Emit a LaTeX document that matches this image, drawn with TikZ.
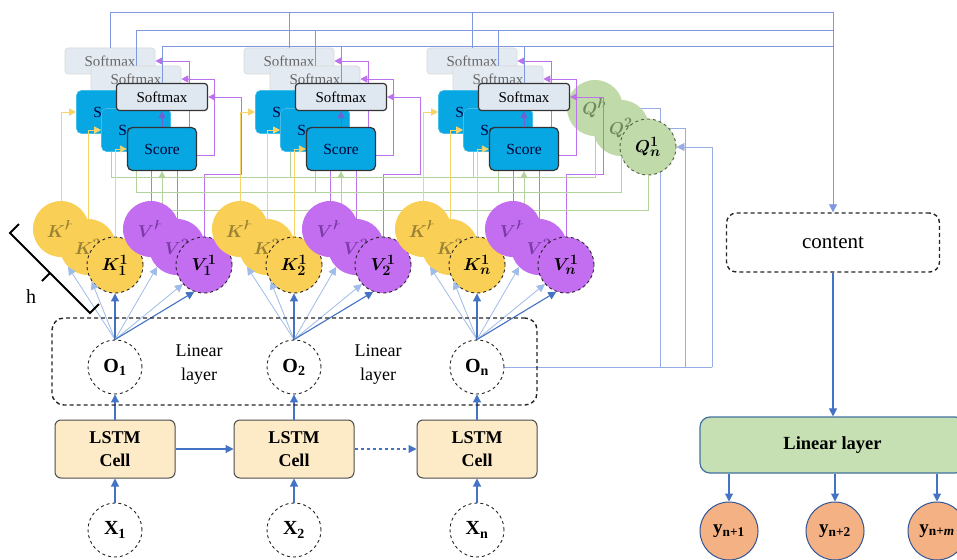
\documentclass[tikz,border=0pt]{standalone}
\usepackage{fontspec}
\setmainfont{Liberation Serif}
\usepackage{bm}
\usetikzlibrary{arrows.meta}

\definecolor{kyel}{HTML}{FACF55}
\definecolor{kdark}{HTML}{9B8234}
\definecolor{vpur}{HTML}{C36EF1}
\definecolor{vdark}{HTML}{7B3AA6}
\definecolor{qgrn}{HTML}{C0DAAA}
\definecolor{qdark}{HTML}{6F8A5C}
\definecolor{scoreblue}{HTML}{06A7E2}
\definecolor{softbg}{HTML}{DFE7F1}
\definecolor{softback}{HTML}{E3EAF2}
\definecolor{arrblue}{HTML}{4472C4}
\definecolor{lightarr}{HTML}{9FBDE8}
\definecolor{busblue}{HTML}{7E98DE}
\definecolor{lstmfill}{HTML}{FDEBC8}
\definecolor{linfill}{HTML}{C6E0B4}
\definecolor{linedge}{HTML}{41719C}
\definecolor{yfill}{HTML}{F4B183}
\definecolor{yedge}{HTML}{2F5597}
\definecolor{kline}{HTML}{F8D36A}
\definecolor{pline}{HTML}{BC72EE}
\definecolor{gline}{HTML}{B2D49C}
\definecolor{slate}{HTML}{7060D0}

\pgfdeclarelayer{paper}
\pgfdeclarelayer{wires}
\pgfdeclarelayer{qlayer}
\pgfdeclarelayer{links}
\pgfdeclarelayer{kvlayer}
\pgfdeclarelayer{top}
\pgfsetlayers{paper,wires,qlayer,links,kvlayer,main,top}

\begin{document}
\begin{tikzpicture}[x=1pt,y=-1pt,
  ah/.style={-{Triangle[length=8pt,width=8pt]}},
  ahs/.style={-{Triangle[length=7pt,width=7pt]}},
  ball/.style={circle,minimum size=56pt,inner sep=0pt,font=\fontsize{19}{21}\selectfont},
  kback/.style={ball,fill=kyel,text=kdark},
  kfront/.style={ball,fill=kyel,draw=black!85,dashed,line width=0.9pt},
  vback/.style={ball,fill=vpur,text=vdark},
  vfront/.style={ball,fill=vpur,draw=black!85,dashed,line width=0.9pt},
  qback/.style={ball,fill=qgrn,text=qdark},
  qfront/.style={ball,fill=qgrn,draw=qdark!70!black,dashed,line width=0.9pt},
  hollow/.style={circle,minimum size=54pt,inner sep=0pt,draw=black!85,dashed,line width=0.9pt,fill=white,font=\fontsize{20}{22}\selectfont},
  smback/.style={rectangle,rounded corners=3pt,minimum width=90pt,minimum height=26pt,inner sep=0pt,fill=softback,draw=gray!30,line width=0.6pt,text=gray!80!black,font=\fontsize{15}{17}\selectfont},
  smfront/.style={smback,minimum width=91pt,minimum height=27pt,fill=softbg,draw=black!80,line width=1.2pt,text=black},
  scback/.style={rectangle,rounded corners=5pt,minimum width=69pt,minimum height=43pt,inner sep=0pt,fill=scoreblue,draw=scoreblue!75!white,line width=0.6pt,text=black!75!blue,font=\fontsize{15.5}{17}\selectfont},
  scfront/.style={scback,draw=black!80,line width=1.2pt,text=black!80!blue},
  lstm/.style={rectangle,rounded corners=6pt,minimum width=120pt,minimum height=58pt,inner sep=0pt,fill=lstmfill,draw=black!70,line width=1pt,align=center,font=\bfseries\fontsize{18}{23}\selectfont},
  yball/.style={circle,minimum size=58pt,inner sep=0pt,fill=yfill,draw=yedge,line width=1pt,font=\fontsize{19}{21}\selectfont},
  dk/.style={draw=arrblue,line width=1.1pt},
  lt/.style={draw=lightarr,line width=0.8pt},
  yl/.style={draw=kline,line width=0.8pt},
  pl/.style={draw=pline,line width=0.8pt},
  gl/.style={draw=gline,line width=0.8pt},
  bus/.style={draw=busblue,line width=0.8pt},
  dashbox/.style={draw=black!85,dash pattern=on 4pt off 3pt,line width=1.4pt},
  brace/.style={draw=black,line width=2pt,line join=miter},
]
\useasboundingbox (0,0) rectangle (957,559);
\begin{pgfonlayer}{paper}
  \fill[white] (0,0) rectangle (957,559);
\end{pgfonlayer}

% one attention column per time step
\foreach \c/\s [count=\i] in {115/1,294/2,477/n}{
  \begin{pgfonlayer}{kvlayer}
    \node[kback]  (kh-\i) at (\c-54,229) {$\bm{K^{h}}$};
    \node[kback]  (k2-\i) at (\c-27,247) {$\bm{K^{2}}$};
    \node[kfront] (kf-\i) at (\c,265)    {$\bm{K_{\s}^{1}}$};
    \node[vback]  (vh-\i) at (\c+36,229) {$\bm{V^{h}}$};
    \node[vback]  (v2-\i) at (\c+62,247) {$\bm{V^{2}}$};
    \node[vfront] (vf-\i) at (\c+89,265) {$\bm{V_{\s}^{1}}$};
  \end{pgfonlayer}
  % score and softmax stacks
  \node[smback]  (smA-\i) at (\c-5,61)  {Softmax};
  \node[smback]  (smB-\i) at (\c+21,79) {Softmax};
  \node[scback]  (scA-\i) at (\c-4,112) {Score};
  \node[scback]  (scB-\i) at (\c+21,130) {Score};
  \node[smfront] (smF-\i) at (\c+47,97) {Softmax};
  \node[scfront] (scF-\i) at (\c+47,149) {Score};
  % recurrent column
  \node[hollow] (o-\i) at (\c,367) {\textbf{O}\textsubscript{\textbf{\s}}};
  \node[lstm] (cell-\i) at (\c,449) {LSTM\\Cell};
  \node[hollow] (x-\i) at (\c,530) {\textbf{X}\textsubscript{\textbf{\s}}};
  \draw[dk,ah] (x-\i) -- (cell-\i);
  \draw[dk,ah] (cell-\i) -- (o-\i);
  \begin{pgfonlayer}{kvlayer}
    \draw[lt,ah] (o-\i.north) -- (k2-\i.225);
    \draw[lt,ah] (o-\i.north) -- (kf-\i.215);
    \draw[dk,ah] (o-\i.north) -- (kf-\i.south);
    \draw[lt,ah] (o-\i.north) -- (v2-\i.225);
    \draw[lt,ah] (o-\i.north) -- (vf-\i.222);
    \draw[dk,ah] (o-\i.north) -- (vf-\i.250);
  \end{pgfonlayer}
  % values into softmax, queries into score
  \begin{pgfonlayer}{links}
    \draw[pl,ahs] (vh-\i.north) |- (\c+74,150) |- (smA-\i.east);
    \draw[pl,ahs] (v2-\i.north) |- (\c+99,155) |- (smB-\i.east);
    \draw[pl,ahs] (vf-\i.north) |- (\c+126,174) |- (smF-\i.east);
    \draw[gl] (scA-\i.south) -- (scA-\i.south |- 0,177);
    \draw[gl] (scB-\i.south) -- (scB-\i.south |- 0,192);
    \draw[draw=gline,line width=0.8pt,ahs] (scF-\i.south |- 0,210) -- (scF-\i.south);
  \end{pgfonlayer}
  % keys into score, outputs to the top buses
  \begin{pgfonlayer}{top}
    \draw[yl,ahs] (kh-\i.north) |- (scA-\i.west);
    \draw[yl,ahs] (k2-\i.north) |- (scB-\i.west);
    \draw[yl,ahs] (kf-\i.north) |- (scF-\i.west);
    \draw[draw=slate,line width=0.8pt,ahs] (scF-\i.north) -- (smF-\i.south);
    \draw[bus] (smA-\i.north) -- (smA-\i.north |- 0,12);
    \draw[bus] (smB-\i.north) -- (smB-\i.north |- 0,30);
    \draw[bus] (smF-\i.north) -- (smF-\i.north |- 0,46);
  \end{pgfonlayer}
}

% query heads
\begin{pgfonlayer}{qlayer}
  \node[qback]  (qh) at (595,108) {$\bm{Q^{h}}$};
  \node[qback]  (q2) at (621,128) {$\bm{Q^{2}}$};
  \node[qfront] (qf) at (648,147) {$\bm{Q_{n}^{1}}$};
\end{pgfonlayer}
\begin{pgfonlayer}{links}
  \draw[gl] (qh.south) |- (scA-1.south |- 0,177);
  \draw[gl] (q2.south) |- (scB-1.south |- 0,192);
  \draw[gl] (qf.south) |- (scF-1.south |- 0,210);
\end{pgfonlayer}
\begin{pgfonlayer}{wires}
  \draw[draw=busblue!80!white,line width=0.8pt] (o-3.east) -- (o-3.east -| 712,0);
  \draw[draw=busblue!80!white,line width=0.8pt] (o-3.east -| 660,0) |- (qh.east);
  \draw[draw=busblue!80!white,line width=0.8pt] (o-3.east -| 685,0) |- (q2.east);
  \draw[draw=busblue!80!white,line width=0.8pt,ah] (o-3.east -| 712,0) |- (qf.east);
\end{pgfonlayer}

% linear layer around the outputs
\node[dashbox,rounded corners=12pt,minimum width=485pt,minimum height=87pt] (linbox) at (294.5,361.5) {};
\node[align=center,font=\fontsize{18}{24}\selectfont] (ll1) at (199,364) {Linear\\layer};
\node[align=center,font=\fontsize{18}{24}\selectfont] (ll2) at (378,364) {Linear\\layer};
\draw[dk,ah] (cell-1) -- (cell-2);
\draw[dk,ah,dashed] (cell-2) -- (cell-3);

% number of heads
\draw[brace] (19,224) -- (10,233) -- (90,313) -- (99,304);
\draw[brace] (50,273) -- (42,281);
\node[font=\fontsize{20}{22}\selectfont] (hlab) at (31,297) {h};

% decoder side
\node[dashbox,rounded corners=10pt,minimum width=213pt,minimum height=59pt,font=\fontsize{21}{23}\selectfont] (content) at (833,242.5) {content};
\node[fill=linfill,draw=linedge,line width=1.2pt,rounded corners=10pt,minimum width=265pt,minimum height=56pt,font=\bfseries\fontsize{18.5}{21}\selectfont] (lin2) at (832.5,445) {Linear layer};
\node[yball] (yo1) at (729,531) {\textbf{y}\textsubscript{\textbf{n+1}}};
\node[yball] (yo2) at (835,531) {\textbf{y}\textsubscript{\textbf{n+2}}};
\node[yball] (yo3) at (937,531) {\textbf{y}\textsubscript{\textbf{n+\textit{m}}}};
\draw[dk,ah] (content.south) -- (content.south |- lin2.north);
\draw[dk,ah] (yo1 |- lin2.south) -- (yo1);
\draw[dk,ah] (yo2 |- lin2.south) -- (yo2);
\draw[dk,ah] (yo3 |- lin2.south) -- (yo3);

% attention buses to the context
\begin{pgfonlayer}{top}
  \coordinate (busR) at (833,12);
  \draw[bus] (smA-1.north |- 0,12) -- (busR);
  \draw[bus] (smB-1.north |- 0,30) -- (busR |- 0,30);
  \draw[bus] (smF-1.north |- 0,46) -- (busR |- 0,46);
  \draw[bus,ah] (busR) -- (content.north);
\end{pgfonlayer}
\end{tikzpicture}
\end{document}
